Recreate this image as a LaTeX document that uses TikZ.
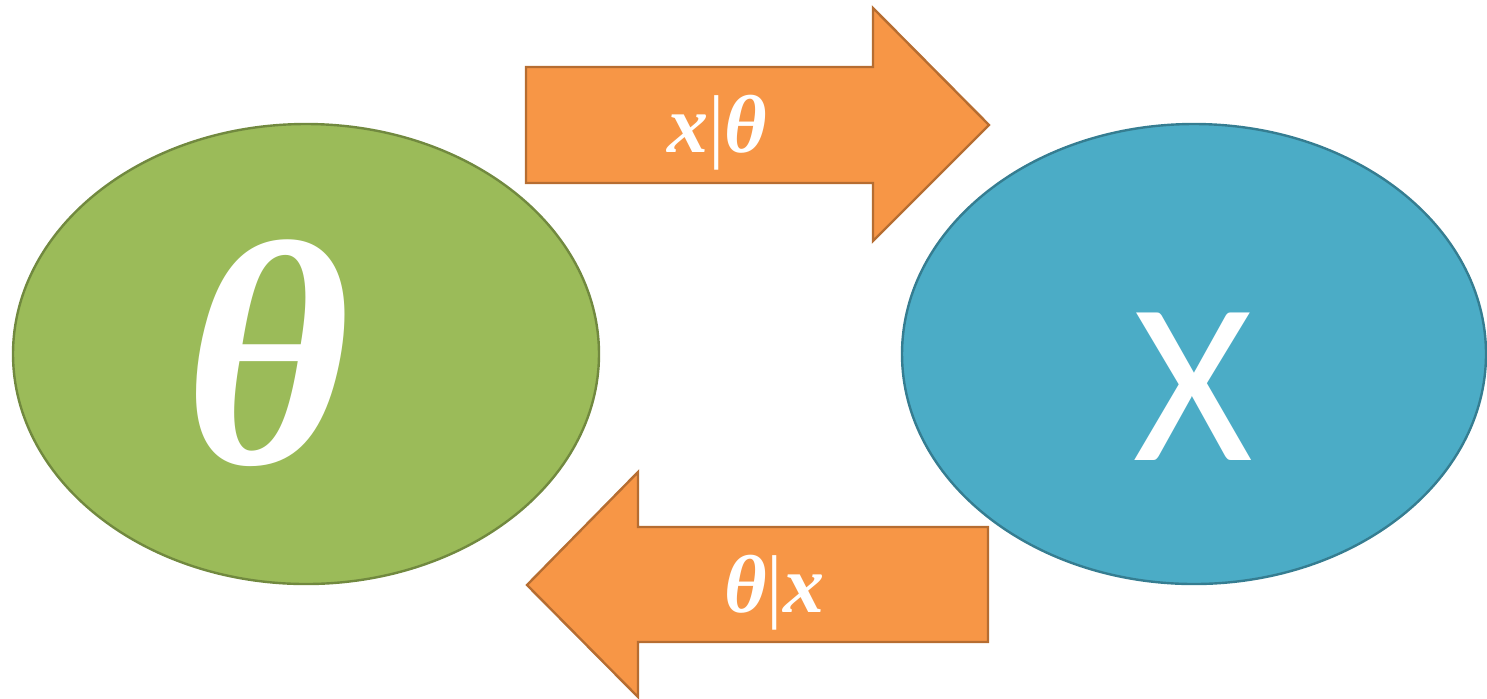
\documentclass[tikz,border=0pt]{standalone}
\usepackage{amsmath}
\usepackage{amssymb}
\usepackage{fontspec}
\newfontfamily\carlito{Carlito}
\newfontfamily\mathbi{Liberation Serif}
\usetikzlibrary{shapes.geometric}
\definecolor{thetagreen}{HTML}{9BBB59}
\definecolor{thetaedge}{HTML}{71893F}
\definecolor{dataBlue}{HTML}{4BACC6}
\definecolor{dataedge}{HTML}{357D91}
\definecolor{arroworange}{HTML}{F79646}
\definecolor{arrowedge}{HTML}{B66D31}
\begin{document}
\begin{tikzpicture}[x=0.5pt, y=-0.5pt,
  blob/.style={ellipse, draw, line width=1.2pt, minimum width=293pt, minimum height=230pt, inner sep=0pt},
  blockarrow/.style={fill=arroworange, draw=arrowedge, line width=1.2pt, line join=miter},
  lab/.style={anchor=base, text=white, font=\fontsize{41}{44}\selectfont\mathbi\bfseries\itshape},]
\useasboundingbox (0,0) rectangle (1487,698);
\node[blob, fill=thetagreen, draw=thetaedge] (theta) at (306,354) {};
\node[blob, fill=dataBlue, draw=dataedge, minimum width=292pt] (X) at (1194,354) {};
\node[lab, font=\fontsize{160}{164}\selectfont\mathbi\bfseries\itshape] (thetalab) at (268,463) {θ};
\node[lab, font=\fontsize{115}{120}\selectfont\carlito] (Xlab) at (1193,460) {X};
% likelihood arrow, theta to X
\draw[blockarrow] (526,67) -- (873,67) -- (873,8) -- (989,125) -- (873,241) -- (873,183) -- (526,183) -- cycle;
\node[lab] (fwd) at (717,152) {x\textup{\mdseries|}θ};
% posterior arrow, X to theta
\draw[blockarrow] (988,527) -- (638,527) -- (638,472) -- (527,585) -- (638,697) -- (638,642) -- (988,642) -- cycle;
\node[lab] (bwd) at (774,612) {θ\textup{\mdseries|}x};
\end{tikzpicture}
\end{document}
